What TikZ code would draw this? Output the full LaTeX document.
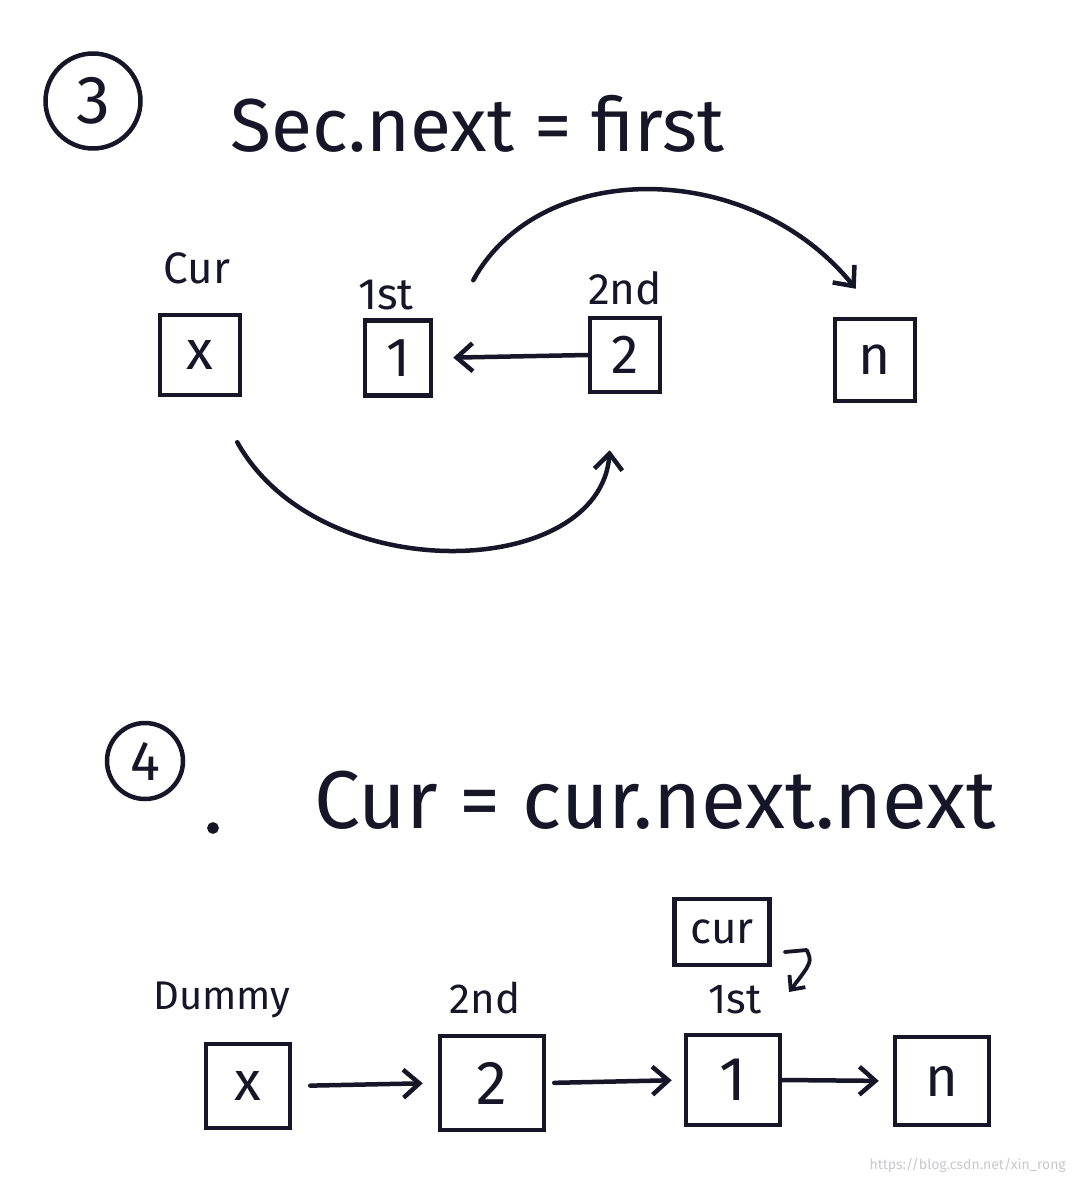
\documentclass[tikz,border=0pt]{standalone}
\usepackage{fontspec}
\setmainfont{Fira Sans}
\usetikzlibrary{arrows.meta}
\definecolor{ink}{RGB}{22,22,40}
\definecolor{wm}{RGB}{200,200,205}
\newcommand{\fs}[1]{\fontsize{#1}{#1}\selectfont}
\begin{document}
\begin{tikzpicture}[x=1pt,y=-1pt,
  every path/.style={line width=4.5pt, draw=ink},
  every node/.style={text=ink},
  box/.style={draw=ink, rectangle, line width=4.5pt, inner sep=0pt, font=\fs{55}},
  lbl/.style={font=\fs{44}, inner sep=0pt},
  title/.style={font=\fs{75}, inner sep=0pt, anchor=west},
  num/.style={draw=ink, circle, line width=4.5pt, inner sep=0pt},
  arr/.style={-{Straight Barb[length=16pt,width=28pt]}, line cap=round, line join=round}
]
\path[use as bounding box, fill=white, draw=none] (0,0) rectangle (1076,1182);

% ---------- step 3 ----------
\node[num, minimum size=95pt, font=\fs{68}] (c3) at (93,101) {3};
\node[title] (t3) at (228,124) {Sec.next = first};

\node[lbl] (lcur) at (197,268) {Cur};
\node[lbl] (l1st) at (386,295) {1st};
\node[lbl] (l2nd) at (625,288) {2nd};

\node[box, minimum width=80pt, minimum height=80pt] (tx) at (200,355) {x};
\node[box, minimum width=66pt, minimum height=75pt] (t1) at (398,358) {1};
\node[box, minimum width=70pt, minimum height=74pt] (t2) at (625,355) {2};
\node[box, minimum width=80pt, minimum height=82pt] (tn) at (875,360) {n};

\draw[arr, shorten >=20pt] (t2.west) -- (t1.east);
\draw[arr] ([xshift=40pt,yshift=38pt]t1.north east) .. controls (540,158) and (750,158) .. ([xshift=23pt,yshift=28pt]tn.north west);
\draw[arr] ([xshift=-5pt,yshift=-45pt]tx.south east) .. controls (320,590) and (600,580) .. ([xshift=22pt,yshift=-56pt]t2.south west);

% ---------- step 4 ----------
\node[num, minimum size=76pt, font=\fs{56}] (c4) at (145,761) {4};
\fill[ink] (213,828) circle (3.5pt);
\node[title, font=\fs{82}] (t4) at (312,800) {Cur = cur.next.next};

\node[box, font=\fs{44}, minimum width=95pt, minimum height=66pt] (bcur) at (722,932) {cur};

\node[lbl, font=\fs{40}] (ldum) at (222,1000) {Dummy};
\node[lbl, font=\fs{42}] (l2b) at (485,998) {2nd};
\node[lbl, font=\fs{42}] (l1b) at (735,1000) {1st};

\coordinate (hk) at (789,992);
\draw[arr, line width=3.8pt, -{Straight Barb[length=11pt,width=20pt]}] ([xshift=13pt,yshift=-20pt]bcur.east) -- ++(22,-2) .. controls (812,962) .. (hk);

\node[box, minimum width=84pt, minimum height=84pt] (bx) at (248,1086) {x};
\node[box, minimum width=104pt, minimum height=94pt, font=\fs{62}] (b2) at (492,1083) {2};
\node[box, minimum width=94pt, minimum height=90pt, font=\fs{62}] (b1) at (733,1080) {1};
\node[box, minimum width=94pt, minimum height=88pt, font=\fs{56}] (bn) at (942,1081) {n};

\draw[arr, shorten <=18pt, shorten >=15pt] (bx.east) -- (b2.west);
\draw[arr, shorten <=8pt, shorten >=12pt] (b2.east) -- (b1.west);
\draw[arr, shorten <=0pt, shorten >=14pt] (b1.east) -- (bn.west);

\node[font=\fs{14}, text=wm, anchor=east, inner sep=0pt] (wmk) at (1068,1165) {https://blog.csdn.net/xin\_rong};
\end{tikzpicture}
\end{document}
